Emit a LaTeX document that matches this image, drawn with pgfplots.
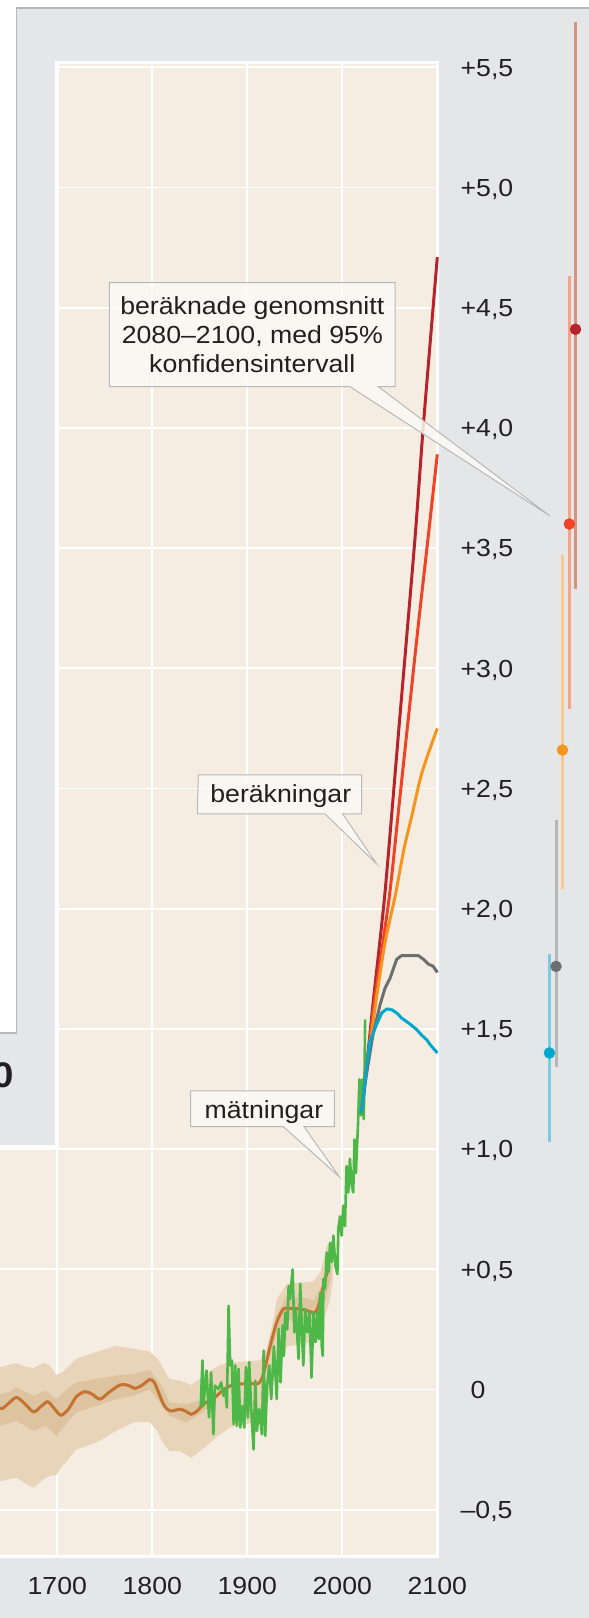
\documentclass[border=0pt]{standalone}
\usepackage{fontspec}
\setmainfont{Liberation Sans}[FakeStretch=1.08]
\usepackage{pgfplots}
\usepackage{pgfplotstable}
\pgfplotsset{compat=1.18}
\definecolor{bggrey}{HTML}{E5E6E8}
\definecolor{panel}{HTML}{F5EDE2}
\definecolor{bandout}{HTML}{E8D4B9}
\definecolor{bandin}{HTML}{DDC39F}
\definecolor{brownline}{HTML}{C57330}
\definecolor{greenline}{HTML}{4DB848}
\definecolor{sspA}{HTML}{B7232A}
\definecolor{sspB}{HTML}{EE4326}
\definecolor{sspC}{HTML}{F7941D}
\definecolor{sspD}{HTML}{6D6E71}
\definecolor{sspE}{HTML}{00A8CE}
\definecolor{barA}{HTML}{D9927E}
\definecolor{barB}{HTML}{F4A487}
\definecolor{barC}{HTML}{F9C88E}
\definecolor{barD}{HTML}{B5B6B8}
\definecolor{barE}{HTML}{78CDE2}
\definecolor{boxline}{HTML}{B8B8B8}
\definecolor{calloutfill}{HTML}{FCF9F5}
\definecolor{txt}{HTML}{231F20}

% outer uncertainty band: upper edge forward, lower edge backward
\pgfplotstableread{
year t
1625 0.09
1640 0.093
1657 0.11
1666 0.095
1675 0.089
1685 0.111
1692 0.10
1699 0.061
1705 0.07
1720 0.128
1741 0.156
1762 0.181
1780 0.17
1797 0.158
1805 0.13
1811 0.093
1818 0.044
1829 0.037
1841 0.019
1857 0.065
1870 0.10
1882 0.114
1899 0.117
1911 0.12
1917 0.13
1921 0.18
1928 0.30
1931 0.377
1942 0.44
1960 0.445
1970 0.45
1977 0.49
1984 0.60
1987 0.61
1990 0.55
1990 0.45
1987 0.37
1984 0.335
1977 0.238
1970 0.20
1960 0.19
1942 0.18
1931 0.08
1928 0.04
1921 -0.05
1917 -0.09
1911 -0.13
1899 -0.144
1882 -0.158
1870 -0.19
1857 -0.235
1841 -0.284
1829 -0.256
1818 -0.256
1811 -0.221
1805 -0.17
1797 -0.134
1780 -0.137
1762 -0.172
1741 -0.221
1720 -0.249
1705 -0.32
1699 -0.354
1692 -0.36
1685 -0.374
1675 -0.409
1666 -0.39
1657 -0.367
1640 -0.381
1625 -0.38
}\outerband

% inner band (early part)
\pgfplotstableread{
year t
1625 -0.02
1640 -0.019
1650 -0.01
1657 0.009
1666 -0.01
1675 -0.026
1688 -0.005
1699 -0.04
1710 0.0
1720 0.03
1741 0.044
1762 0.058
1780 0.065
1797 0.082
1811 0.009
1818 -0.054
1836 -0.061
1850 -0.047
1862 -0.05
1862 -0.07
1850 -0.102
1836 -0.137
1818 -0.109
1811 -0.068
1797 0.0
1780 -0.026
1762 -0.04
1741 -0.068
1720 -0.095
1710 -0.14
1699 -0.193
1688 -0.151
1675 -0.172
1666 -0.15
1657 -0.13
1650 -0.14
1640 -0.151
1625 -0.15
}\innerband

% inner band (20th century)
\pgfplotstableread{
year t
1920 0.10
1930 0.30
1940 0.38
1950 0.385
1960 0.38
1970 0.37
1977 0.42
1984 0.52
1988 0.52
1988 0.46
1984 0.40
1977 0.31
1970 0.28
1960 0.285
1950 0.29
1940 0.29
1930 0.22
1920 0.08
}\innerbandb

\pgfplotstableread{
year t
1625 -0.03
1640 -0.079
1648 -0.06
1657 -0.033
1666 -0.06
1675 -0.093
1683 -0.07
1690 -0.051
1697 -0.08
1704 -0.107
1712 -0.08
1720 -0.03
1729 -0.009
1737 -0.02
1745 -0.04
1755 -0.01
1766 0.019
1774 0.018
1782 0.005
1790 0.02
1797 0.041
1802 0.03
1808 -0.026
1813 -0.07
1819 -0.089
1829 -0.082
1835 -0.09
1841 -0.103
1847 -0.09
1853 -0.065
1860 -0.045
1868 -0.026
1875 0.0
1882 0.015
1890 0.022
1899 0.024
1906 0.024
1912 0.026
1917 0.065
1924 0.18
1931 0.28
1938 0.335
1945 0.338
1955 0.335
1963 0.328
1971 0.32
1975 0.35
1980 0.43
1985 0.50
}\recon

\pgfplotstableread{
year t
1851 -0.07
1852.8 0.121
1853.8 -0.068
1857 0.079
1859.7 -0.116
1861.9 0.072
1864.3 -0.186
1866 0.016
1869.7 0.002
1872.5 0.03
1875 -0.026
1876.8 0.002
1878.5 -0.075
1880.3 0.348
1882 0.10
1883.8 0.121
1885.6 -0.144
1887.3 0.10
1889 -0.151
1890.8 0.086
1892.6 -0.158
1895 -0.068
1896.8 -0.158
1898.5 0.093
1900.6 -0.116
1902 0.114
1904.1 -0.081
1906.6 -0.249
1908.4 0.037
1910.1 -0.172
1912.6 -0.081
1915.4 -0.186
1917.2 0.162
1918.9 -0.193
1920.7 0.009
1923.1 0.10
1925.2 -0.04
1928 0.18
1931 -0.04
1933 0.253
1935 0.03
1937.2 0.267
1938.5 0.14
1940 0.32
1942 0.25
1943.5 0.43
1945 0.377
1947.7 0.50
1949.5 0.238
1951 0.335
1954 0.127
1955.7 0.44
1957.5 0.238
1959 0.10
1961 0.335
1963.4 0.238
1965.5 0.32
1967.6 0.05
1969.7 0.32
1971.8 0.197
1973.9 0.32
1975.3 0.21
1976.7 0.40
1978.4 0.18
1979.4 0.14
1980.1 0.46
1981.9 0.42
1983.6 0.57
1985.7 0.49
1987.1 0.61
1988.9 0.53
1990.6 0.64
1992.7 0.515
1994.8 0.48
1995.8 0.667
1997.6 0.72
1999.3 0.64
2001 0.765
2002.8 0.68
2004.5 0.93
2006.3 0.82
2008 0.96
2009.8 0.85
2011.5 0.82
2012.9 1.04
2014.3 0.90
2016.5 1.10
2018 1.29
2019.5 1.14
2021 1.29
2022.5 1.125
2023.3 1.28
2024 1.54
}\measured

\pgfplotstableread{
year t
2020 1.15
2025 1.32
2033 1.63
2045 2.07
2060 2.77
2076.5 3.54
2085.3 4.01
2100 4.71
}\sspfive

\pgfplotstableread{
year t
2020 1.15
2025 1.32
2034.4 1.63
2049.5 2.05
2060 2.44
2070 2.81
2080 3.18
2090.5 3.55
2100 3.89
}\sspthree

\pgfplotstableread{
year t
2020 1.15
2025 1.31
2036 1.63
2045 1.86
2055.5 2.05
2065 2.25
2074 2.40
2082 2.54
2090 2.64
2100 2.75
}\ssptwo

\pgfplotstableread{
year t
2020 1.15
2025 1.30
2032 1.47
2039.7 1.60
2045 1.67
2050.2 1.71
2053.7 1.75
2057.3 1.79
2062.5 1.805
2080 1.805
2085.3 1.79
2090.5 1.77
2095.8 1.76
2100 1.735
}\sspone

\pgfplotstableread{
year t
2020 1.15
2025 1.32
2029.2 1.45
2036.2 1.52
2041.5 1.566
2046.7 1.583
2052 1.58
2057.3 1.566
2062.5 1.545
2071.3 1.52
2078.3 1.497
2083.6 1.474
2088.8 1.455
2092.4 1.435
2100 1.40
}\sspzero

\begin{document}
\begin{tikzpicture}[x=1bp,y=1bp,font=\fontsize{24.7bp}{28.5bp}\selectfont]
\fill[bggrey] (0,0) rectangle (589,1618);
\begin{axis}[
  at={(-9.2bp,61.4bp)}, anchor=south west,
  scale only axis, width=446.5bp, height=1494.1bp,
  xmin=1630, xmax=2100, ymin=-0.695, ymax=5.52,
  clip=false,
  axis background/.style={fill=panel},
  axis line style={white, line width=3.5bp},
  grid=major, major grid style={white, line width=1.8bp},
  major tick length=0pt,
  xtick={1700,1800,1900,2000,2100},
  xticklabels={1700,1800,1900,2000,2100},
  xticklabel style={anchor=north, inner sep=0pt, yshift=-20bp, text=txt},
  ytick={-0.5,0,0.5,1,1.5,2,2.5,3,3.5,4,4.5,5,5.5},
  yticklabels={{–0,5},{\hspace*{10bp}0},{+0,5},{+1,0},{+1,5},{+2,0},{+2,5},{+3,0},{+3,5},{+4,0},{+4,5},{+5,0},{+5,5}},
  yticklabel pos=right,
  yticklabel style={anchor=base west, inner sep=0pt, xshift=23.1bp, yshift=-8.8bp, text=txt},
]
% uncertainty bands
\addplot[fill=bandout, draw=none] table[x=year,y=t]{\outerband};
\addplot[fill=bandin, draw=none] table[x=year,y=t]{\innerband};
\addplot[fill=bandin, draw=none] table[x=year,y=t]{\innerbandb};
% reconstruction
\addplot[brownline, line width=3bp, smooth, tension=0.5] table[x=year,y=t]{\recon};
% measured
\addplot[greenline, line width=2.6bp, line join=round] table[x=year,y=t]{\measured};
% projections
\addplot[sspA, line width=3bp, smooth, tension=0.4] table[x=year,y=t]{\sspfive};
\addplot[sspB, line width=3bp, smooth, tension=0.4] table[x=year,y=t]{\sspthree};
\addplot[sspC, line width=3bp, smooth, tension=0.4] table[x=year,y=t]{\ssptwo};
\addplot[sspD, line width=3bp, line join=round] table[x=year,y=t]{\sspone};
\addplot[sspE, line width=3bp, line join=round] table[x=year,y=t]{\sspzero};
% 2080-2100 means with 95% intervals
\addplot[barE, line width=3bp] coordinates {(2218,1.03) (2218,1.81)};
\addplot[barD, line width=3bp] coordinates {(2225,1.34) (2225,2.37)};
\addplot[barC, line width=3bp] coordinates {(2231.8,2.08) (2231.8,3.47)};
\addplot[barB, line width=3bp] coordinates {(2239,2.83) (2239,4.63)};
\addplot[barA, line width=3bp] coordinates {(2245.5,3.33) (2245.5,5.69)};
\addplot[only marks, mark=*, mark size=5.5bp, mark options={draw=sspE, fill=sspE}] coordinates {(2218,1.40)};
\addplot[only marks, mark=*, mark size=5.5bp, mark options={draw=sspD, fill=sspD}] coordinates {(2225,1.76)};
\addplot[only marks, mark=*, mark size=5.5bp, mark options={draw=sspC, fill=sspC}] coordinates {(2231.8,2.66)};
\addplot[only marks, mark=*, mark size=5.5bp, mark options={draw=sspB, fill=sspB}] coordinates {(2239,3.60)};
\addplot[only marks, mark=*, mark size=5.5bp, mark options={draw=sspA, fill=sspA}] coordinates {(2245.5,4.41)};
% grey overlay panel (top-left)
\fill[bggrey] (axis cs:1600,1.011) rectangle (axis cs:1699.5,5.7);
\draw[white, line width=3.5bp] (axis cs:1600,1.011) -- (axis cs:1699.5,1.011) -- (axis cs:1699.5,5.527);
\end{axis}
\begin{scope}[shift={(0bp,1618bp)}, y=-1bp]
\fill[white] (-5,-5) rectangle (16.5,1033);
\fill[white] (-5,-5) rectangle (594,8);
\draw[boxline, line width=1.2bp] (-5,1033) -- (16.5,1033) -- (16.5,8) -- (594,8);
\node[anchor=base east, inner sep=0pt, text=txt, font=\bfseries\fontsize{35.6bp}{40bp}\selectfont] at (14.5,1088) {0};
\filldraw[fill=calloutfill, fill opacity=0.85, draw=boxline, line width=1bp]
  (109.3,282.7) -- (395,282.7) -- (395,386.7) -- (378.3,386.7) -- (550,516) -- (350,386.7) -- (109.3,386.7) -- cycle;
\node[anchor=base, inner sep=0pt, text=txt] at (252.3,314.7) {beräknade genomsnitt};
\node[anchor=base, inner sep=0pt, text=txt] at (252.3,343.5) {2080–2100, med 95\%};
\node[anchor=base, inner sep=0pt, text=txt] at (252.3,372.5) {konfidensintervall};
\filldraw[fill=calloutfill, fill opacity=0.85, draw=boxline, line width=1bp]
  (198.3,775) -- (361.7,775) -- (361.7,814) -- (342.7,814) -- (376.7,864) -- (325,814) -- (197.3,814) -- cycle;
\node[anchor=base, inner sep=0pt, text=txt] at (280.8,803) {beräkningar};
\filldraw[fill=calloutfill, fill opacity=0.85, draw=boxline, line width=1bp]
  (190.7,1091) -- (334.3,1091) -- (334.3,1126.7) -- (304,1126.7) -- (339.3,1176.7) -- (283.3,1126.7) -- (190.7,1126.7) -- cycle;
\node[anchor=base, inner sep=0pt, text=txt] at (263.9,1118.5) {mätningar};
\end{scope}
\pgfresetboundingbox
\path[use as bounding box] (0,0) rectangle (589,1618);
\end{tikzpicture}
\end{document}
